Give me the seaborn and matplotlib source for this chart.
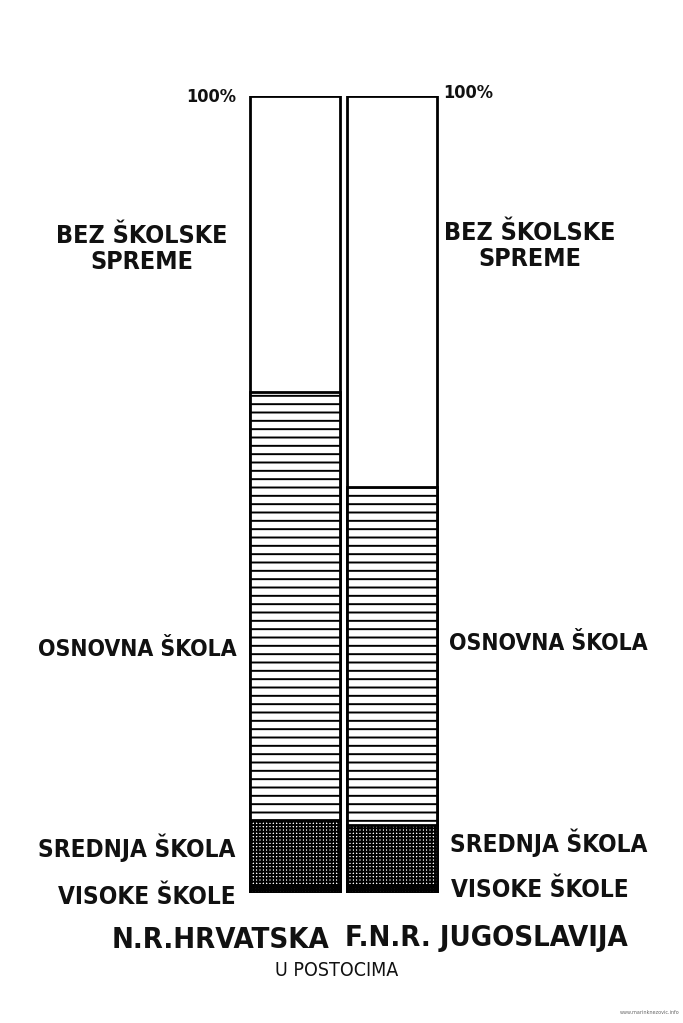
import pandas as pd
import matplotlib
matplotlib.use("Agg")
import matplotlib.pyplot as plt
import seaborn as sns

# values in percent
regions = ["N.R.HRVATSKA", "F.N.R. JUGOSLAVIJA"]
levels = ["BEZ ŠKOLSKE\nSPREME", "OSNOVNA ŠKOLA", "SREDNJA ŠKOLA", "VISOKE ŠKOLE"]
hrvatska = [37.1, 53.7, 8.2, 1.0]
jugoslavija = [49.1, 42.4, 7.6, 0.9]
top_label = "100%"
subtitle = "U POSTOCIMA"

sns.set_style("white")
plt.rcParams["font.family"] = ["DejaVu Sans"]
plt.rcParams["hatch.linewidth"] = 1.4

df = pd.DataFrame({"level": levels, regions[0]: hrvatska, regions[1]: jugoslavija})
# stack from the bottom: cumulative share up to and including each level
cum = df.set_index("level")[regions].iloc[::-1].cumsum().iloc[::-1]

fig = plt.figure(figsize=(6.83, 10.23), dpi=100)
ax = fig.add_axes([0, 1 - 893 / 1023, 1, (893 - 96) / 1023])

hatches = ["", "--", "+++++", "++++++"]
faces = ["white", "white", "white", "#222222"]
for lev, h, fc in zip(levels, hatches, faces):
    d = pd.DataFrame({"region": regions, "share": cum.loc[lev, regions].values})
    sns.barplot(data=d, x="region", y="share", order=regions, color=fc,
                hatch=h, edgecolor="black", linewidth=2, width=0.92,
                saturation=1, ax=ax)

ax.set_xlim(-295 / 97, (683 - 295) / 97)
ax.set_ylim(0, 100)
ax.axis("off")

txt = dict(fontweight="bold", fontstretch="condensed", color="#111111")
fig.text(236 / 683, 1 - 97 / 1023, top_label, ha="right", va="center", fontsize=13, **txt)
fig.text(443 / 683, 1 - 93 / 1023, top_label, ha="left", va="center", fontsize=13, **txt)

# labels at the side of each column: (x centre, y) in pixels
left_pos = [(142, 249), (137, 650), (137, 848), (147, 897)]
right_pos = [(530, 246), (548, 644), (549, 843), (540, 890)]
sizes = [18, 16.5, 17.5, 17.5]
for lev, (lx, ly), (rx, ry), fs in zip(levels, left_pos, right_pos, sizes):
    for x, y in [(lx, ly), (rx, ry)]:
        fig.text(x / 683, 1 - y / 1023, lev, ha="center", va="center",
                 fontsize=fs, linespacing=1.1, **txt)

fig.text(220 / 683, 1 - 940 / 1023, regions[0], ha="center", va="center", fontsize=21, **txt)
fig.text(486 / 683, 1 - 938 / 1023, regions[1], ha="center", va="center", fontsize=21, **txt)
fig.text(337 / 683, 1 - 970 / 1023, subtitle, ha="center", va="center", fontsize=14,
         fontstretch="condensed", color="#111111")
fig.text(680 / 683, 1 - 1012 / 1023, "www.marinknezovic.info", ha="right", va="center",
         fontsize=3.5, color="#666666")

fig.savefig("out.png", dpi=100, facecolor="white")
